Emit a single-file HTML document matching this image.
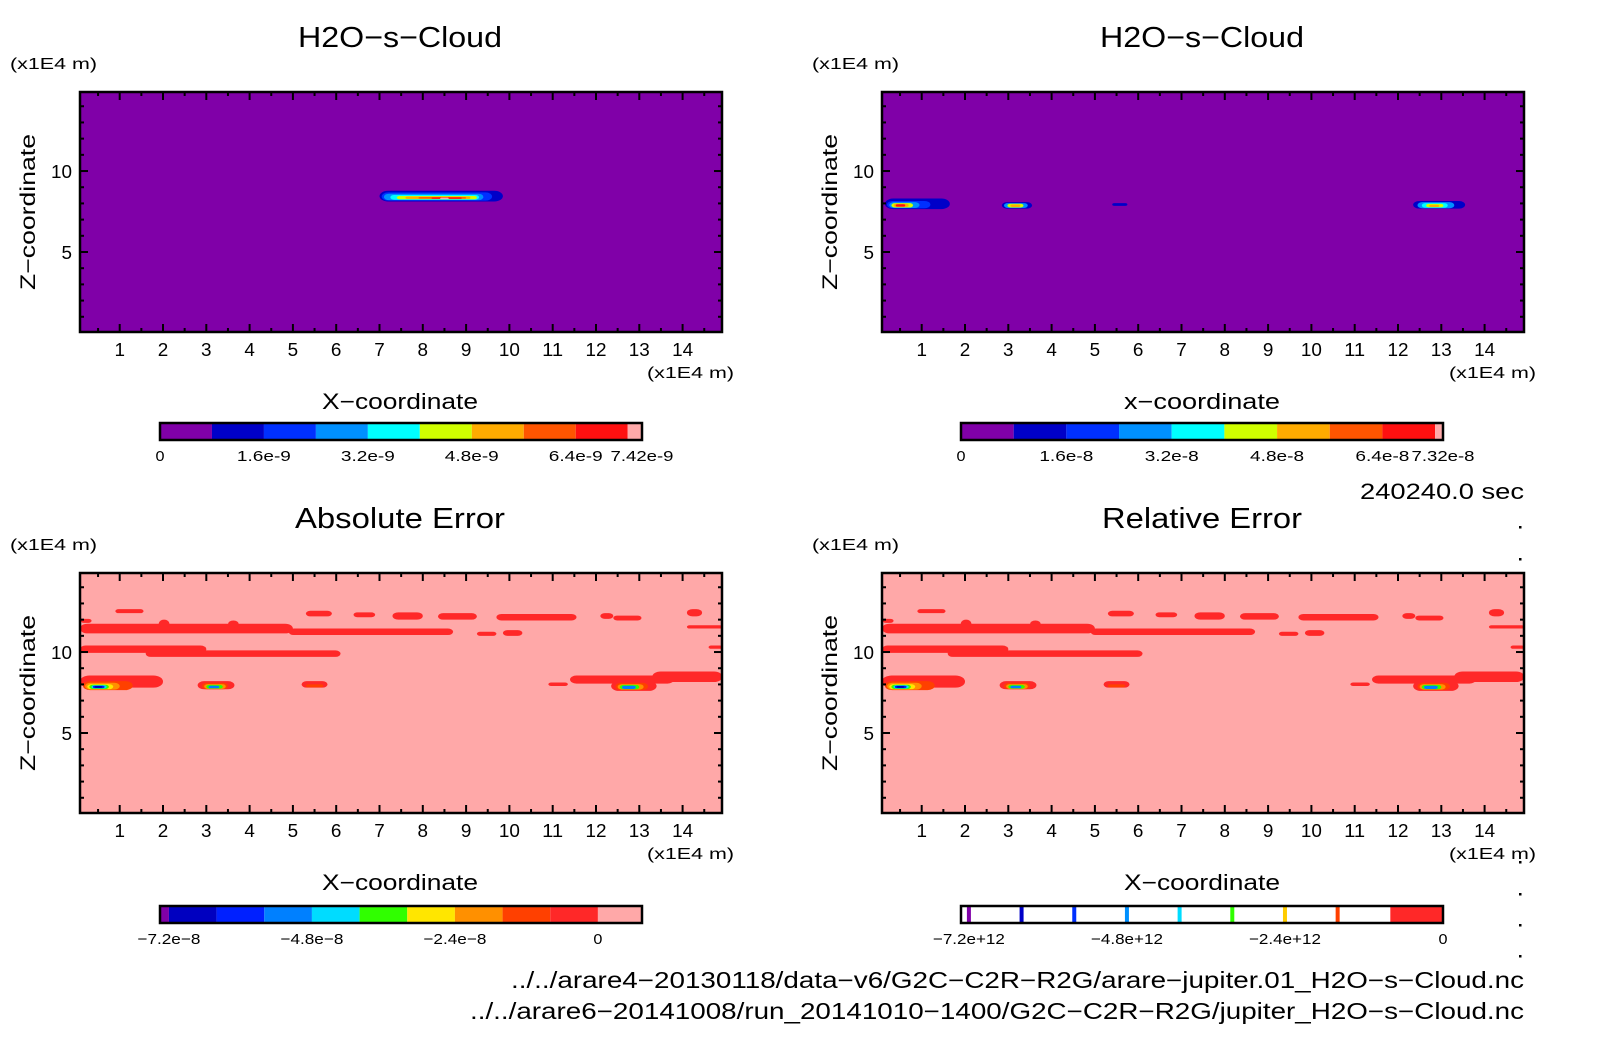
<!DOCTYPE html>
<html><head><meta charset="utf-8">
<style>
html,body{margin:0;padding:0;background:#fff;}
svg{display:block;font-family:"Liberation Sans",sans-serif;}
</style></head>
<body>
<svg id="fig" width="1604" height="1054" viewBox="0 0 1604 1054" xmlns="http://www.w3.org/2000/svg"></svg>
<script>
// ---- data ----
const xDomain = [0.083, 14.91];
const zDomain = [0.06, 14.88];
const xTicks = [1,2,3,4,5,6,7,8,9,10,11,12,13,14];
const zTicks = [5,10];
const cloudColors = ['#8000a8','#0000c8','#0030ff','#0090ff','#00ffff','#d0ff00','#ffab00','#ff5500','#ff1010','#ffaaaa'];
const errColors = ['#0000c0','#0020ff','#0080ff','#00dcff','#30ff00','#ffe600','#ff9000','#ff4000','#ff2828'];
// blobs: [x0, x1, zBottom, zTop, colorIndex]
const cloudA = [
 [7.0,9.85,8.12,8.78,1],[7.05,9.6,8.17,8.68,2],[7.1,9.4,8.2,8.6,3],[7.25,9.3,8.23,8.52,4],
 [7.4,9.25,8.26,8.46,5],[7.6,9.1,8.28,8.42,6],[7.9,9.0,8.3,8.39,7],[8.2,8.9,8.31,8.37,8],[8.4,8.6,8.32,8.36,9]
];
const cloudB = [
 [0.15,1.65,7.65,8.3,1],[0.2,1.2,7.7,8.15,2],[0.25,0.95,7.72,8.08,3],[0.3,0.8,7.75,8.02,5],[0.35,0.7,7.78,7.98,6],[0.4,0.62,7.8,7.95,8],
 [2.85,3.55,7.68,8.08,1],[2.9,3.45,7.72,8.02,3],[2.98,3.35,7.75,7.98,5],[3.05,3.28,7.78,7.93,6],
 [5.4,5.75,7.85,8.02,1],
 [12.35,13.55,7.68,8.15,1],[12.45,13.3,7.7,8.08,3],[12.55,13.15,7.73,8.02,4],[12.65,13.05,7.76,7.97,5],[12.72,12.95,7.78,7.92,6]
];
const errBlobs = [
 [0.08,5.0,11.15,11.75,8],[1.9,2.15,11.5,12.0,8],[3.5,3.75,11.5,11.95,8],[4.9,8.7,11.05,11.45,8],
 [0.08,3.0,9.95,10.4,8],[1.6,6.1,9.7,10.1,8],
 [0.9,1.55,12.4,12.65,8],[0.1,0.35,11.8,12.05,8],[5.3,5.9,12.2,12.55,8],[6.4,6.9,12.15,12.45,8],[7.3,8.0,12.0,12.45,8],
 [8.35,9.25,12.0,12.4,8],[9.7,11.55,11.95,12.35,8],[12.1,12.4,12.05,12.4,8],[12.4,13.05,11.95,12.25,8],[14.1,14.45,12.2,12.65,8],
 [9.25,9.7,11.0,11.25,8],[9.85,10.3,11.0,11.35,8],[14.1,14.92,11.45,11.65,8],[14.6,14.92,10.2,10.4,8],
 [0.08,2.0,7.8,8.55,8],[2.8,3.65,7.7,8.2,8],[5.2,5.8,7.8,8.2,8],[10.9,11.35,7.9,8.12,8],
 [11.4,13.8,8.05,8.55,8],[13.3,14.92,8.15,8.8,8],[12.35,13.4,7.6,8.2,8],
 [0.15,1.3,7.65,8.2,7],[0.2,1.0,7.68,8.1,6],[0.25,0.85,7.7,8.02,5],[0.3,0.75,7.72,7.98,4],[0.35,0.7,7.75,7.95,3],[0.38,0.65,7.77,7.92,1],[0.42,0.6,7.79,7.9,0],
 [2.9,3.5,7.7,8.1,7],[2.95,3.45,7.72,8.02,6],[3.0,3.38,7.74,7.97,4],[3.05,3.3,7.76,7.92,2],
 [5.3,5.7,7.82,8.0,7],
 [12.45,13.2,7.65,8.1,7],[12.5,13.1,7.68,8.02,6],[12.55,13.0,7.7,7.97,4],[12.6,12.92,7.72,7.92,2]
];
const cbCloudA = {vmin:0, vmax:7.42, labels:['0','1.6e-9','3.2e-9','4.8e-9','6.4e-9','7.42e-9'], vals:[0,1.6,3.2,4.8,6.4,7.42]};
const cbCloudB = {vmin:0, vmax:7.32, labels:['0','1.6e-8','3.2e-8','4.8e-8','6.4e-8','7.32e-8'], vals:[0,1.6,3.2,4.8,6.4,7.32]};
const cbErrLabels = ['\u22127.2e\u22128','\u22124.8e\u22128','\u22122.4e\u22128','0'];
const cbRelLabels = ['\u22127.2e+12','\u22124.8e+12','\u22122.4e+12','0'];
const cbErrVals = [-7.2,-4.8,-2.4,0];

// ---- drawing ----
const NS='http://www.w3.org/2000/svg';
const svg=document.getElementById('fig');
function mk(tag,attrs,parent){const e=document.createElementNS(NS,tag);for(const k in attrs)e.setAttribute(k,attrs[k]);(parent||svg).appendChild(e);return e;}
function txt(s,x,y,size,anchor,parent,name,len){const t=mk('text',{x:x,y:y,'font-size':size,'text-anchor':anchor||'start',fill:'#000'},parent);t.textContent=s;
if(len){t.setAttribute('textLength',len);t.setAttribute('lengthAdjust','spacingAndGlyphs');}


return t;}

function panel(ox,oy,bg,title,titleLen,xlabel,blobs,colors,name){
  const g=mk('g',{});
  
  
  const L=ox+80,R=ox+722,T=oy+92,B=oy+332;
  const sx=v=>L+(v-xDomain[0])/(xDomain[1]-xDomain[0])*(R-L);
  const sz=v=>B-(v-zDomain[0])/(zDomain[1]-zDomain[0])*(B-T);
  const cid='clip'+name;
  const cp=mk('clipPath',{id:cid},g);mk('rect',{x:L,y:T,width:R-L,height:B-T},cp);
  const bgr=mk('rect',{x:L,y:T,width:R-L,height:B-T,fill:bg},g);
  
  
  const fg=mk('g',{'clip-path':'url(#'+cid+')'},g);
  blobs.forEach(b=>{
    const x0=sx(b[0]),x1=sx(b[1]),y0=sz(b[3]),y1=sz(b[2]);
    const h=Math.max(y1-y0,1.5);
    const r=mk('rect',{x:x0,y:y0,width:x1-x0,height:h,rx:Math.min((x1-x0)/2,h/2*1.6),ry:h/2,fill:colors[b[4]]},fg);
    
    
  });
  mk('rect',{x:L,y:T,width:R-L,height:B-T,fill:'none',stroke:'#000','stroke-width':2.5},g);
  for(let v=0.5;v<15;v+=0.5){const x=sx(v);if(x<L||x>R)continue;const len=(v%1===0)?8:4;
    mk('line',{x1:x,y1:B,x2:x,y2:B-len,stroke:'#000','stroke-width':2},g);mk('line',{x1:x,y1:T,x2:x,y2:T+len,stroke:'#000','stroke-width':2},g);}
  for(let v=1;v<15;v++){const y=sz(v);const len=(v%5===0)?8:4;
    mk('line',{x1:L,y1:y,x2:L+len,y2:y,stroke:'#000','stroke-width':2},g);mk('line',{x1:R,y1:y,x2:R-len,y2:y,stroke:'#000','stroke-width':2},g);}
  xTicks.forEach(v=>txt(String(v),sx(v),oy+356,18,'middle',g,'x-tick-label',String(v).length*10.5));
  zTicks.forEach(v=>txt(String(v),ox+72,sz(v)+7,18,'end',g,'z-tick-label',String(v).length*10.5));
  txt(title,ox+400,oy+47,29,'middle',g,'panel-title',titleLen);
  txt('(x1E4 m)',ox+10,oy+69,16,'start',g,'z-unit-label',87);
  txt('(x1E4 m)',ox+734,oy+378,16,'end',g,'x-unit-label',87);
  txt(xlabel,ox+400,oy+409,22,'middle',g,'x-axis-title',156);
  const zl=txt('Z\u2212coordinate',0,0,21,'middle',g,'z-axis-title',156);
  zl.setAttribute('transform','translate('+(ox+35)+','+(oy+212)+') rotate(-90)');
  return g;
}
function colorbar(ox,oy,vmin,vmax,segs,extra,labels,vals,name){
  const g=mk('g',{});
  
  
  const L=ox+160,R=ox+642,T=oy+423,B=oy+440;
  const s=v=>L+(v-vmin)/(vmax-vmin)*(R-L);
  segs.forEach(sg=>{const r=mk('rect',{x:s(sg[0]),y:T,width:Math.max(s(sg[1])-s(sg[0]),0),height:B-T,fill:sg[2]},g);
    
    });
  if(extra)extra(g,s,T,B);
  mk('rect',{x:L,y:T,width:R-L,height:B-T,fill:'none',stroke:'#000','stroke-width':2.5},g);
  labels.forEach((l,i)=>txt(l,s(vals[i]),oy+461,15,'middle',g,'colorbar-label',l.length*9.0));
}
// Panels
panel(0,0,'#8000a8','H2O\u2212s\u2212Cloud',204,'X\u2212coordinate',cloudA,cloudColors,'panel-cloud-a');
panel(802,0,'#8000a8','H2O\u2212s\u2212Cloud',204,'x\u2212coordinate',cloudB,cloudColors,'panel-cloud-b');
panel(0,481,'#ffa8a8','Absolute Error',210,'X\u2212coordinate',errBlobs,errColors,'panel-absolute-error');
panel(802,481,'#ffa8a8','Relative Error',200,'X\u2212coordinate',errBlobs,errColors,'panel-relative-error');
// Colorbars
function cloudSegs(vmax){const a=[];for(let i=0;i<9;i++)a.push([i*0.8,(i+1)*0.8,cloudColors[i]]);a.push([7.2,vmax,cloudColors[9]]);return a;}
colorbar(0,0,0,7.42,cloudSegs(7.42),null,cbCloudA.labels,cbCloudA.vals,'colorbar-cloud-a');
colorbar(801,0,0,7.32,cloudSegs(7.32),null,cbCloudB.labels,cbCloudB.vals,'colorbar-cloud-b');
function errSegs(){const a=[[-7.35,-7.2,'#8000a8']];for(let i=0;i<9;i++)a.push([-7.2+i*0.8,-7.2+(i+1)*0.8,errColors[i]]);a.push([0,0.74,'#ffa8a8']);return a;}
colorbar(0,483,-7.35,0.74,errSegs(),null,cbErrLabels,cbErrVals,'colorbar-absolute-error');
colorbar(801,483,-7.32,0,[[-7.32,-0.8,'#fff'],[-0.8,0,'#ff2828']],function(g,s,T,B){
  const lc=['#8000a8','#0000c8','#0030ff','#0090ff','#00dcff','#30ff00','#ffcc00','#ff4000'];
  lc.forEach((c,i)=>{const v=-7.2+i*0.8;mk('rect',{x:s(v)-2,y:T,width:4,height:B-T,fill:c},g);});
},cbRelLabels,cbErrVals,'colorbar-relative-error');
// Annotations
txt('240240.0 sec',1524,499,22,'end',null,'time-label',164);
[526,558,861,893,924,955].forEach(y=>{const c=mk('rect',{x:1519,y:y,width:2.5,height:2.5,fill:'#000'});
  
  });
txt('../../arare4\u221220130118/data\u2212v6/G2C\u2212C2R\u2212R2G/arare\u2212jupiter.01_H2O\u2212s\u2212Cloud.nc',1524,988,23,'end',null,'file-path-1',1013);
txt('../../arare6\u221220141008/run_20141010\u22121400/G2C\u2212C2R\u2212R2G/jupiter_H2O\u2212s\u2212Cloud.nc',1524,1019,23,'end',null,'file-path-2',1054);
</script>
</body></html>
